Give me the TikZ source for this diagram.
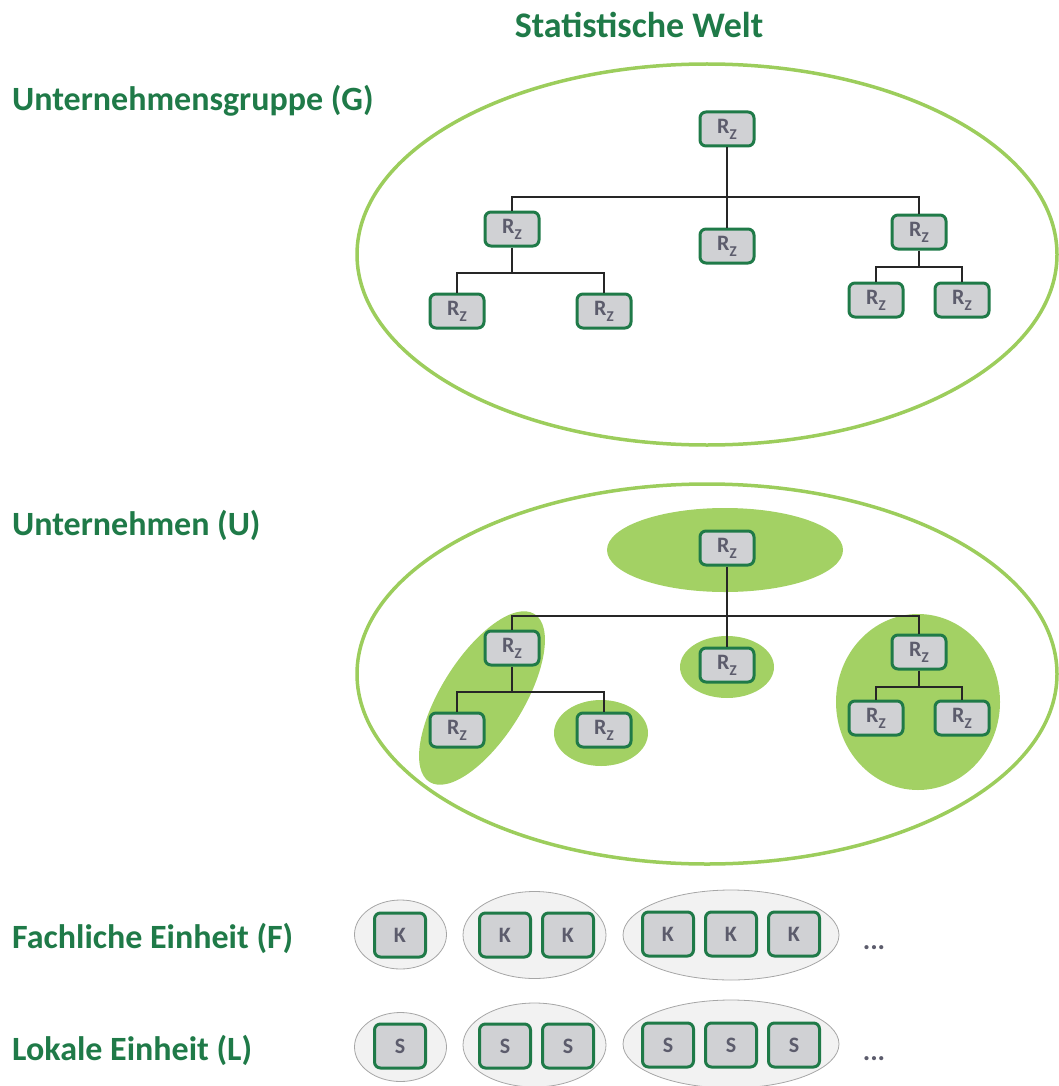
\documentclass[tikz,border=0pt]{standalone}
\usepackage{fontspec}
\setmainfont{Carlito}
\usepackage{tikz}
\usetikzlibrary{shapes.geometric}
\usetikzlibrary{positioning}
\definecolor{dgreen}{HTML}{1F7A48}
\definecolor{lgreen}{HTML}{9CCD5C}
\definecolor{fgreen}{HTML}{A3D164}
\definecolor{boxgray}{HTML}{D0D1D4}
\definecolor{txtgray}{HTML}{5C5C6C}
\tikzset{
    unit/.style={
           rectangle,
           rounded corners=6pt,
           draw=dgreen, line width=3pt,
           fill=boxgray,
           text=txtgray,
           font=\fontsize{22}{24}\selectfont\bfseries,
           inner sep=0pt,
           text centered,
           },
}
\tikzset{
    rz/.style={
           unit,
           minimum width=54pt, minimum height=34pt,
           },
}
\tikzset{
    ks/.style={
           unit,
           minimum width=51pt, minimum height=44pt,
           },
}
\tikzset{
    world/.style={
           ellipse,
           draw=lgreen, line width=3.5pt,
           inner sep=0pt,
           },
}
\tikzset{
    part/.style={
           ellipse,
           fill=fgreen,
           inner sep=0pt,
           },
}
\tikzset{
    group/.style={
           ellipse,
           draw=black!35, fill=black!5, line width=0.8pt,
           inner sep=0pt,
           },
}
\tikzset{
    level/.style={
           anchor=west,
           text=dgreen,
           font=\fontsize{34}{40}\selectfont\bfseries,
           inner sep=0pt,
           },
}
\tikzset{
    link/.style={
           draw=black!85, line width=1.6pt,
           },
}
\newcommand{\Rz}{R\raisebox{-6pt}{\fontsize{15}{16}\selectfont Z}}

\begin{document}
\begin{tikzpicture}[x=1pt,y=-1pt]
\useasboundingbox (0,0) rectangle (1059,1086);
% titles
\node[text=dgreen,font=\fontsize{36}{42}\selectfont\bfseries,inner sep=0pt](title) at (639,25){Statistische Welt};
\node[level](lG) at (12,101){Unternehmensgruppe (G)};
\node[level](lU) at (12,525){Unternehmen (U)};
\node[level](lF) at (12,938){Fachliche Einheit (F)};
\node[level](lL) at (12,1050){Lokale Einheit (L)};
% Unternehmensgruppe
\node[world,minimum width=700pt,minimum height=381pt](eG) at (707,254.5){};
\node[rz](g0) at (727,129){\Rz};
\node[rz](g1) at (512,229){\Rz};
\node[rz](g2) at (727,246){\Rz};
\node[rz](g3) at (919,232){\Rz};
\node[rz](g11) at (457,311){\Rz};
\node[rz](g12) at (604,311){\Rz};
\node[rz](g31) at (876,300){\Rz};
\node[rz](g32) at (962,300){\Rz};
\coordinate (gb0) at (727,197);
\coordinate (gb1) at (512,273);
\coordinate (gb3) at (919,267);
\path (g0) edge[link] (g2);
\draw[link] (g1.north) |- (gb0) -| (g3.north);
\draw[link] (g1) -- (gb1);
\draw[link] (g11.north) |- (gb1) -| (g12.north);
\draw[link] (g3) -- (gb3);
\draw[link] (g31.north) |- (gb3) -| (g32.north);
% Unternehmen
\node[world,minimum width=700pt,minimum height=380pt](eU) at (707,674){};
\node[part,minimum width=236pt,minimum height=84pt](p0) at (725,550){};
\node[part,minimum width=198pt,minimum height=82pt,rotate=58](p1) at (482,698){};
\node[part,minimum width=94pt,minimum height=62pt](p2) at (727,667){};
\node[part,minimum width=94pt,minimum height=66pt](p12) at (601,733){};
\node[part,minimum width=164pt,minimum height=176pt](p3) at (918,702){};
\node[rz](u0) at (727,548){\Rz};
\node[rz](u1) at (512,648){\Rz};
\node[rz](u2) at (727,665){\Rz};
\node[rz](u3) at (919,652){\Rz};
\node[rz](u11) at (457,730){\Rz};
\node[rz](u12) at (604,730){\Rz};
\node[rz](u31) at (876,718){\Rz};
\node[rz](u32) at (962,718){\Rz};
\coordinate (ub0) at (727,616);
\coordinate (ub1) at (512,692);
\coordinate (ub3) at (919,687);
\path (u0) edge[link] (u2);
\draw[link] (u1.north) |- (ub0) -| (u3.north);
\draw[link] (u1) -- (ub1);
\draw[link] (u11.north) |- (ub1) -| (u12.north);
\draw[link] (u3) -- (ub3);
\draw[link] (u31.north) |- (ub3) -| (u32.north);
% Fachliche Einheit
\node[group,minimum width=92pt,minimum height=69pt](fA) at (400.5,934.5){};
\node[group,minimum width=143pt,minimum height=87pt](fB) at (534.5,935){};
\node[group,minimum width=216pt,minimum height=90pt](fC) at (731,935){};
\node[ks](f1) at (400,935){K};
\node[ks](f21) at (505,935){K};
\node[ks](f22) at (568,935){K};
\node[ks](f31) at (668,934){K};
\node[ks](f32) at (731,934){K};
\node[ks](f33) at (794,934){K};
\node[text=txtgray,font=\fontsize{28}{30}\selectfont\bfseries](fdots) at (874,948){...};
% Lokale Einheit
\node[group,minimum width=92pt,minimum height=69pt](lA) at (400.5,1047){};
\node[group,minimum width=143pt,minimum height=84pt](lB) at (534.5,1045){};
\node[group,minimum width=216pt,minimum height=88pt](lC) at (731,1044){};
\node[ks](s1) at (400,1046){S};
\node[ks](s21) at (505,1046){S};
\node[ks](s22) at (568,1046){S};
\node[ks](s31) at (668,1045){S};
\node[ks](s32) at (731,1045){S};
\node[ks](s33) at (794,1045){S};
\node[text=txtgray,font=\fontsize{28}{30}\selectfont\bfseries](ldots) at (874,1059){...};
\end{tikzpicture}
\end{document}
